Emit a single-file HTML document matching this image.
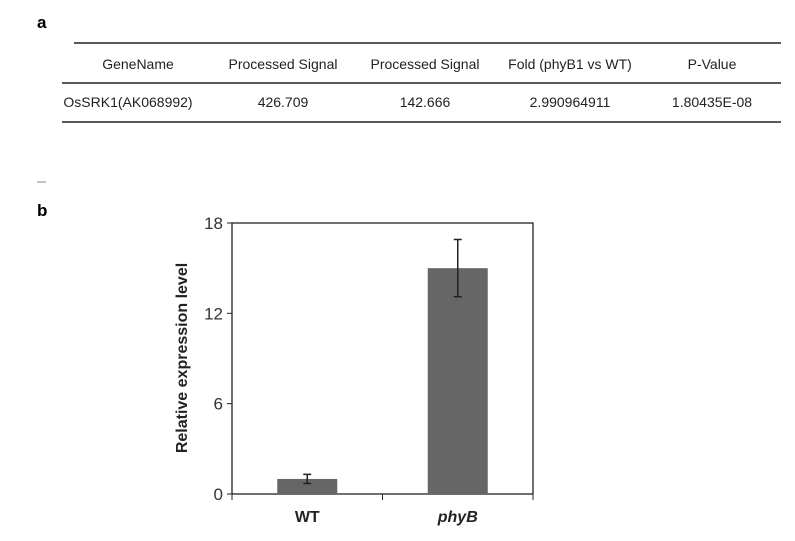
<!DOCTYPE html>
<html><head><meta charset="utf-8"><style>
body{margin:0;background:#fff;width:795px;height:536px;overflow:hidden;font-family:"Liberation Sans",sans-serif;}
</style></head><body>
<svg width="795" height="536" viewBox="0 0 795 536">
<text x="37" y="28" font-size="17" font-weight="bold">a</text>
<g font-size="14" fill="#222" text-anchor="middle">
<line x1="74" y1="43" x2="781" y2="43" stroke="#222" stroke-width="1.5"/>
<line x1="62" y1="83" x2="781" y2="83" stroke="#222" stroke-width="1.5"/>
<line x1="62" y1="122" x2="781" y2="122" stroke="#222" stroke-width="1.5"/>
<text x="138" y="69">GeneName</text>
<text x="283" y="69">Processed Signal</text>
<text x="425" y="69">Processed Signal</text>
<text x="570" y="69">Fold (phyB1 vs WT)</text>
<text x="712" y="69">P-Value</text>
<text x="128" y="107">OsSRK1(AK068992)</text>
<text x="283" y="107">426.709</text>
<text x="425" y="107">142.666</text>
<text x="570" y="107">2.990964911</text>
<text x="712" y="107">1.80435E-08</text>
</g>
<line x1="37" y1="182" x2="46" y2="182" stroke="#888" stroke-width="1"/>
<text x="37" y="216" font-size="17" font-weight="bold">b</text>
<g id="chart"></g>
</svg>
<script>
const categories=["WT","phyB"];
const values=[1.0,15.0];
const errors=[0.3,1.9];
const yTicks=[0,6,12,18];
const NS="http://www.w3.org/2000/svg";
const g=document.getElementById('chart');
const L=232,R=533,T=223,B=494,yMax=18;
const y=v=>B-(v/yMax)*(B-T);
const band=(R-L)/categories.length;
const xc=i=>L+band*(i+0.5);
function mk(t,a,p){const e=document.createElementNS(NS,t);for(const k in a)e.setAttribute(k,a[k]);(p||g).appendChild(e);return e;}
let e;
e=mk('rect',{x:L,y:T,width:R-L,height:B-T,fill:'none',stroke:'#222','stroke-width':1.3});


yTicks.forEach(t=>{
 const tk=mk('line',{x1:L-5,x2:L,y1:y(t),y2:y(t),stroke:'#222'});
 
 
 const lb=mk('text',{x:L-9,y:y(t)+6,'text-anchor':'end','font-size':17,fill:'#333'});
 lb.textContent=t;
 
 
});
for(let i=0;i<=categories.length;i++){
 const tk=mk('line',{x1:L+band*i,x2:L+band*i,y1:B,y2:B+6,stroke:'#222'});
 
 
}
categories.forEach((c,i)=>{
 const w=60;
 const b=mk('rect',{x:xc(i)-w/2,y:y(values[i]),width:w,height:B-y(values[i]),fill:'#666'});
 
 
 const hi=y(values[i]+errors[i]),lo=y(values[i]-errors[i]);
 const eb=mk('path',{d:`M${xc(i)},${hi}V${lo}M${xc(i)-4},${hi}H${xc(i)+4}M${xc(i)-4},${lo}H${xc(i)+4}`,stroke:'#222','stroke-width':1.5,fill:'none'});
 
 
 const lb=mk('text',{x:xc(i),y:B+28,'text-anchor':'middle','font-size':16,'font-weight':'bold',fill:'#222','font-style':i==1?'italic':'normal'});
 lb.textContent=c;
 
 
});
e=mk('text',{x:0,y:0,transform:'translate(187,358) rotate(-90)','text-anchor':'middle','font-size':16,'font-weight':'bold',fill:'#222'});
e.textContent='Relative expression level';


</script>
</body></html>
